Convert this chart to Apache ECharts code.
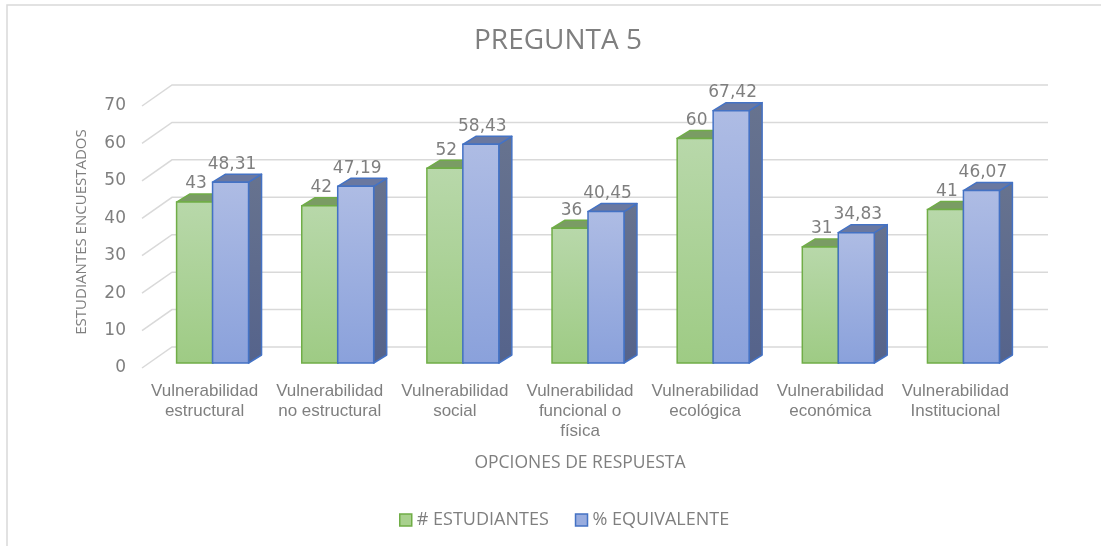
<!DOCTYPE html>
<html>
<head>
<meta charset="utf-8">
<script src="https://cdn.jsdelivr.net/npm/echarts@6/dist/echarts.min.js"></script>
<style>
  html, body { margin: 0; padding: 0; background: #ffffff; }
  #chart { width: 1101px; height: 546px; }
</style>
</head>
<body>
<div id="chart"></div>
<script>
// Response options (x axis)
const categories = [
  'Vulnerabilidad\nestructural',
  'Vulnerabilidad\nno estructural',
  'Vulnerabilidad\nsocial',
  'Vulnerabilidad\nfuncional o\nfísica',
  'Vulnerabilidad\necológica',
  'Vulnerabilidad\neconómica',
  'Vulnerabilidad\nInstitucional'
];
// Number of surveyed students per option
const estudiantes = [43, 42, 52, 36, 60, 31, 41];
// Equivalent percentage per option
const equivalente = [48.31, 47.19, 58.43, 40.45, 67.42, 34.83, 46.07];
// Value axis ticks
const yTicks = [0, 10, 20, 30, 40, 50, 60, 70];
const seriesNames = ['# ESTUDIANTES', '% EQUIVALENTE'];

// Pseudo-3D offsets, in pixels, relative to the bars' front plane
const FLOOR_FRONT = [-8, 5];
const BACK_WALL = [22, -16];
const BAR_DEPTH = [13, -8];

const GRAY = '#7f7f7f';

const greenPal = {
  edge: '#70ad47',
  top: '#7a9c64',
  front: ['#b8d8aa', '#9ecb84'],
  side: ['#6f8f5a', '#5e7f4b']
};
const bluePal = {
  edge: '#4472c4',
  top: '#6a78a0',
  front: ['#aebce4', '#8aa1db'],
  side: ['#67738f', '#55638b']
};

function grad(c) {
  return new echarts.graphic.LinearGradient(0, 0, 0, 1, [
    { offset: 0, color: c[0] },
    { offset: 1, color: c[1] }
  ]);
}

// Horizontal gridlines on the back wall, with the diagonal run to the floor's front edge
function renderGridLine(params, api) {
  const y = api.coord([0, api.value(1)])[1];
  const cs = params.coordSys;
  return {
    type: 'polyline',
    silent: true,
    shape: {
      points: [
        [cs.x + FLOOR_FRONT[0], y + FLOOR_FRONT[1]],
        [cs.x + BACK_WALL[0], y + BACK_WALL[1]],
        [cs.x + cs.width + BACK_WALL[0], y + BACK_WALL[1]]
      ]
    },
    style: { stroke: '#d9d9d9', lineWidth: 1.5, fill: null }
  };
}

// 3D box bar: side = -1 draws left of the category centre, +1 right of it
function makeBarRenderer(side, pal, fmt) {
  return function (params, api) {
    const idx = api.value(0);
    const v = api.value(1);
    const top = api.coord([idx, v]);
    const base = api.coord([idx, 0]);
    const w = api.size([1, 0])[0] * 0.2875;
    const x0 = side < 0 ? top[0] - w : top[0];
    const x1 = x0 + w;
    const yt = top[1];
    const yb = base[1];
    const dx = BAR_DEPTH[0], dy = BAR_DEPTH[1];
    return {
      type: 'group',
      children: [
        {
          type: 'polygon',
          shape: { points: [[x1, yt], [x1 + dx, yt + dy], [x1 + dx, yb + dy], [x1, yb]] },
          style: { fill: grad(pal.side), stroke: pal.edge, lineWidth: 1.5, lineJoin: 'round' }
        },
        {
          type: 'polygon',
          shape: { points: [[x0, yt], [x0 + dx, yt + dy], [x1 + dx, yt + dy], [x1, yt]] },
          style: { fill: pal.top, stroke: pal.edge, lineWidth: 1.5, lineJoin: 'round' }
        },
        {
          type: 'rect',
          shape: { x: x0, y: yt, width: w, height: yb - yt },
          style: { fill: grad(pal.front), stroke: pal.edge, lineWidth: 1.5 }
        },
        {
          type: 'text',
          x: (x0 + x1) / 2 + 1.5,
          y: yt - 18,
          style: {
            text: fmt(v),
            fill: GRAY,
            fontFamily: 'DejaVu Sans',
            fontSize: 17,
            align: 'center',
            verticalAlign: 'middle'
          }
        }
      ]
    };
  };
}

const fmtInt = v => String(v);
const fmtDec = v => v.toFixed(2).replace('.', ',');

const chart = echarts.init(document.getElementById('chart'), null, { renderer: 'canvas' });

const yMin = yTicks[0];
const yMax = yTicks[yTicks.length - 1];
const yStep = yTicks[1] - yTicks[0];

chart.setOption({
  backgroundColor: '#ffffff',
  animation: false,
  title: {
    text: 'PREGUNTA 5',
    left: 474,
    top: 27,
    padding: 0,
    textStyle: { fontFamily: 'Open Sans', fontSize: 28, fontWeight: 'normal', color: GRAY }
  },
  graphic: [
    {
      type: 'rect',
      silent: true,
      shape: { x: 7, y: 5, width: 1110, height: 560 },
      style: { fill: null, stroke: '#d9d9d9', lineWidth: 1.5 }
    }
  ],
  legend: {
    left: 399,
    top: 511,
    padding: 0,
    itemWidth: 12,
    itemHeight: 12,
    itemGap: 26,
    selectedMode: false,
    textStyle: { fontFamily: 'Open Sans', fontSize: 18, color: GRAY },
    data: [
      { name: seriesNames[0], icon: 'rect', itemStyle: { color: '#a9d18e', borderColor: greenPal.edge, borderWidth: 1.5 } },
      { name: seriesNames[1], icon: 'rect', itemStyle: { color: '#98acdf', borderColor: bluePal.edge, borderWidth: 1.5 } }
    ]
  },
  grid: [
    // bars' front plane
    { left: 150, top: 101, width: 876, height: 262 },
    // floor front edge, carries the tick labels
    { left: 142, top: 106, width: 876, height: 262 }
  ],
  xAxis: [
    { gridIndex: 0, type: 'category', data: categories, show: false },
    {
      gridIndex: 1,
      type: 'category',
      data: categories,
      axisLine: { show: false },
      axisTick: { show: false },
      splitLine: { show: false },
      axisLabel: {
        interval: 0,
        margin: 13,
        fontFamily: 'Liberation Sans',
        fontSize: 17,
        lineHeight: 20,
        color: GRAY
      },
      name: 'OPCIONES DE RESPUESTA',
      nameLocation: 'middle',
      nameGap: 86,
      nameTextStyle: { fontFamily: 'Open Sans', fontSize: 17.5, color: GRAY }
    }
  ],
  yAxis: [
    {
      gridIndex: 0,
      type: 'value',
      min: yMin,
      max: yMax,
      interval: yStep,
      axisLine: { show: false },
      axisTick: { show: false },
      axisLabel: { show: false },
      splitLine: { show: false },
      name: 'ESTUDIANTES ENCUESTADOS',
      nameLocation: 'middle',
      nameRotate: 90,
      nameGap: 61,
      nameTextStyle: { fontFamily: 'Open Sans', fontSize: 15, color: GRAY }
    },
    {
      gridIndex: 1,
      type: 'value',
      min: yMin,
      max: yMax,
      interval: yStep,
      axisLine: { show: false },
      axisTick: { show: false },
      splitLine: { show: false },
      axisLabel: { margin: 16, fontFamily: 'DejaVu Sans', fontSize: 17, color: GRAY }
    }
  ],
  series: [
    {
      type: 'custom',
      name: 'grid',
      xAxisIndex: 0,
      yAxisIndex: 0,
      silent: true,
      clip: false,
      z: 1,
      renderItem: renderGridLine,
      data: yTicks.map(v => [0, v])
    },
    {
      type: 'custom',
      name: seriesNames[0],
      xAxisIndex: 0,
      yAxisIndex: 0,
      clip: false,
      z: 2,
      itemStyle: { color: '#a9d18e' },
      renderItem: makeBarRenderer(-1, greenPal, fmtInt),
      data: estudiantes.map((v, i) => [i, v])
    },
    {
      type: 'custom',
      name: seriesNames[1],
      xAxisIndex: 0,
      yAxisIndex: 0,
      clip: false,
      z: 3,
      itemStyle: { color: '#98acdf' },
      renderItem: makeBarRenderer(1, bluePal, fmtDec),
      data: equivalente.map((v, i) => [i, v])
    }
  ]
});
</script>
</body>
</html>
